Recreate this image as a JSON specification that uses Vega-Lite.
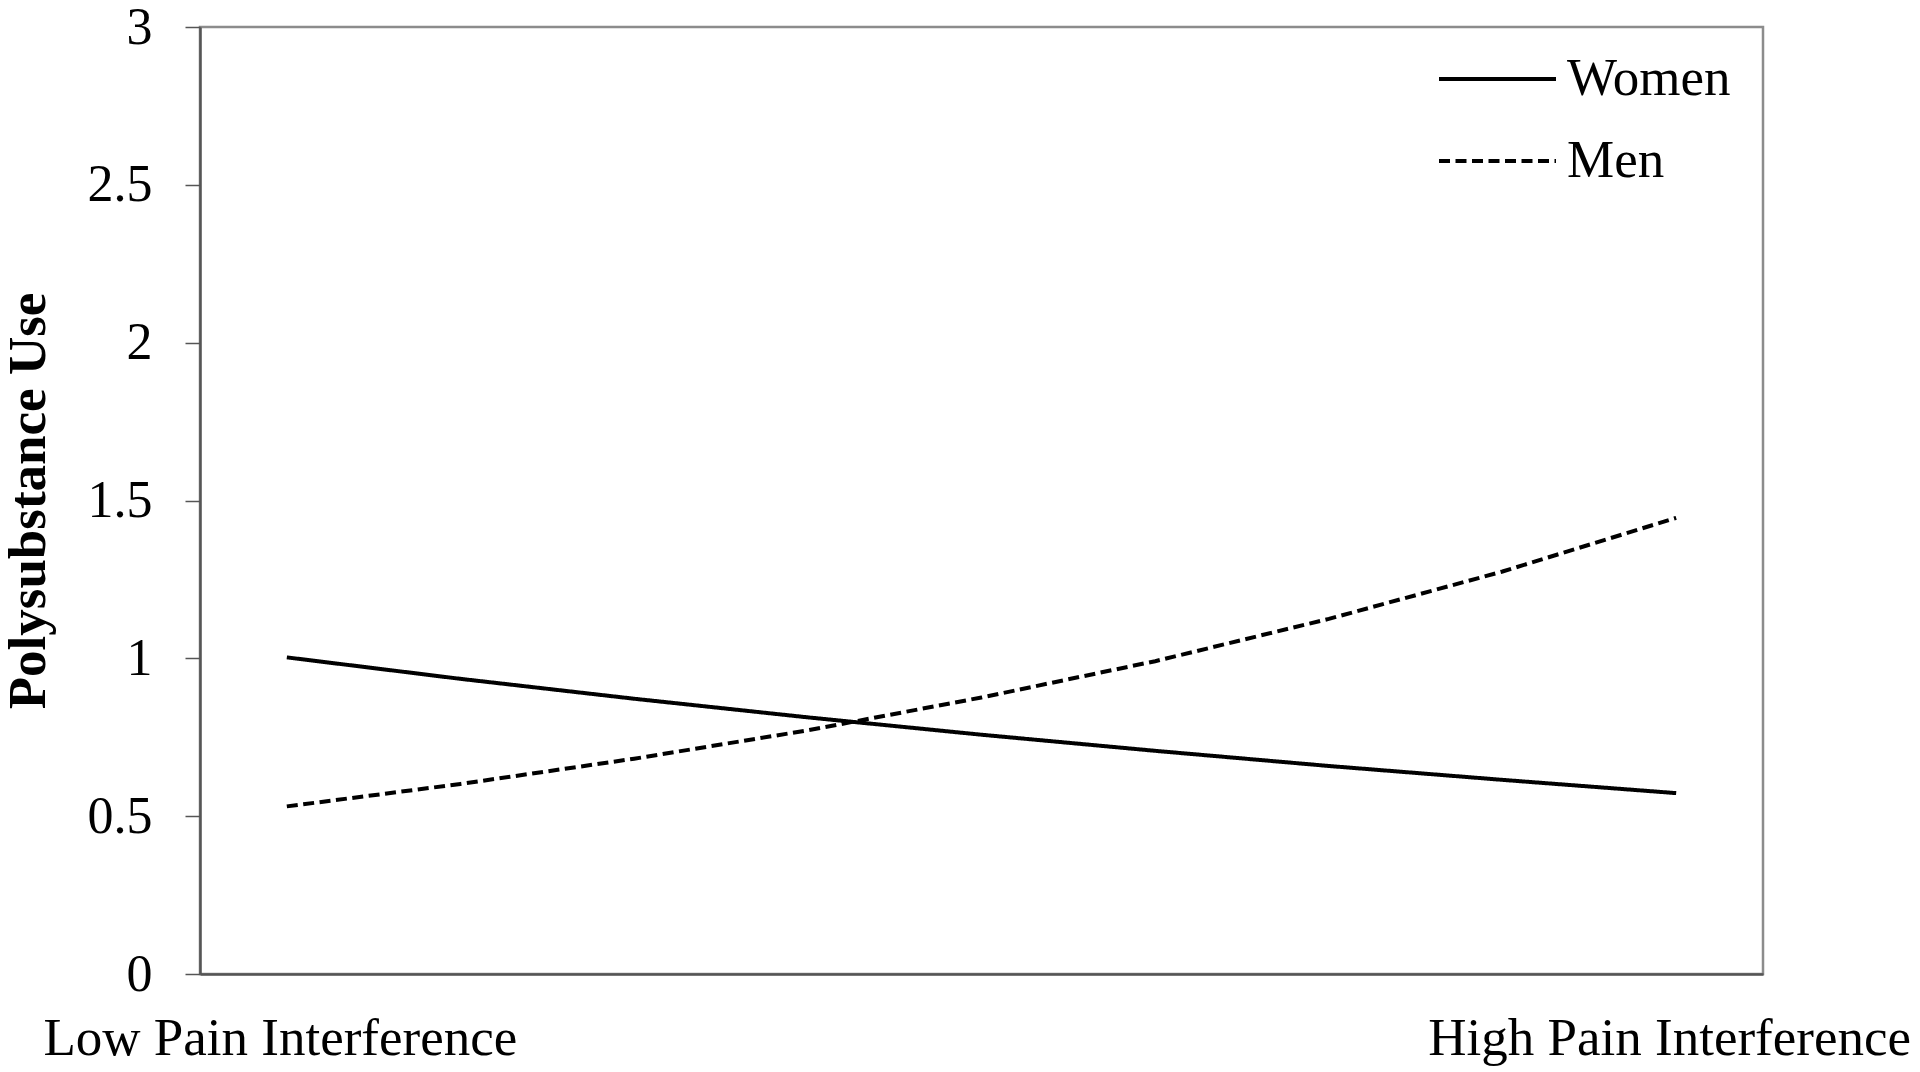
{
  "$schema": "https://vega.github.io/schema/vega-lite/v6.json",
  "autosize": {"type": "none"},
  "padding": {"left": 200, "top": 27, "right": 157, "bottom": 98},
  "width": 1563,
  "height": 947,
  "background": "white",
  "config": {
    "font": "Liberation Serif",
    "view": {"stroke": "#8c8c8c", "strokeWidth": 2.5},
    "axis": {"grid": false, "labelFont": "Liberation Serif", "labelColor": "black", "titleFont": "Liberation Serif", "titleColor": "black"}
  },
  "data": {
    "values": [
      {"step": 1, "sex": "Women", "use": 1.003},
      {"step": 2, "sex": "Women", "use": 0.935},
      {"step": 3, "sex": "Women", "use": 0.872},
      {"step": 4, "sex": "Women", "use": 0.813},
      {"step": 5, "sex": "Women", "use": 0.758},
      {"step": 6, "sex": "Women", "use": 0.707},
      {"step": 7, "sex": "Women", "use": 0.659},
      {"step": 8, "sex": "Women", "use": 0.615},
      {"step": 9, "sex": "Women", "use": 0.573},
      {"step": 1, "sex": "Men", "use": 0.531},
      {"step": 2, "sex": "Men", "use": 0.602},
      {"step": 3, "sex": "Men", "use": 0.682},
      {"step": 4, "sex": "Men", "use": 0.772},
      {"step": 5, "sex": "Men", "use": 0.876},
      {"step": 6, "sex": "Men", "use": 0.991},
      {"step": 7, "sex": "Men", "use": 1.125},
      {"step": 8, "sex": "Men", "use": 1.275},
      {"step": 9, "sex": "Men", "use": 1.445}
    ]
  },
  "mark": {"type": "line", "color": "black", "strokeWidth": 4},
  "encoding": {
    "x": {
      "field": "step",
      "type": "quantitative",
      "scale": {"domain": [0.5, 9.5], "nice": false, "zero": false},
      "axis": {
        "title": null,
        "values": [1, 9],
        "labelExpr": "datum.value == 1 ? 'Low Pain Interference' : 'High Pain Interference'",
        "labelFontSize": 53,
        "labelPadding": 38,
        "labelOffset": -7,
        "labelBaseline": "top",
        "labelOverlap": false,
        "labelBound": false,
        "labelFlush": false,
        "labelLimit": 0,
        "ticks": false,
        "domainColor": "#555555",
        "domainWidth": 2.5
      }
    },
    "y": {
      "field": "use",
      "type": "quantitative",
      "scale": {"domain": [0, 3], "nice": false},
      "axis": {
        "title": "Polysubstance Use",
        "titleFontSize": 53,
        "titleFontWeight": "bold",
        "titleX": -145,
        "values": [0, 0.5, 1, 1.5, 2, 2.5, 3],
        "format": "~g",
        "labelFontSize": 52,
        "labelPadding": 33,
        "labelBaseline": "middle",
        "labelFlush": false,
        "labelBound": false,
        "tickSize": 15,
        "tickColor": "#555555",
        "tickWidth": 1.5,
        "domainColor": "#555555",
        "domainWidth": 2.5
      }
    },
    "strokeDash": {
      "field": "sex",
      "type": "nominal",
      "scale": {"domain": ["Women", "Men"], "range": [[1, 0], [11, 5.5]]},
      "legend": {
        "title": null,
        "orient": "none",
        "legendX": 1237,
        "legendY": 26,
        "padding": 0,
        "symbolType": "stroke",
        "symbolSize": 13689,
        "symbolStrokeWidth": 4,
        "symbolStrokeColor": "black",
        "clipHeight": 52,
        "rowPadding": 29,
        "labelOffset": 9,
        "labelFont": "Liberation Serif",
        "labelFontSize": 53,
        "labelColor": "black",
        "labelBaseline": "middle",
        "labelLimit": 0
      }
    }
  }
}
